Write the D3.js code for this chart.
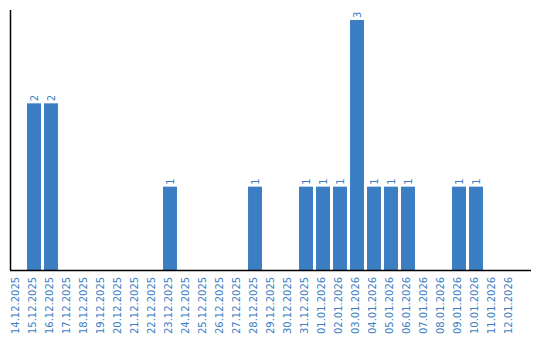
<!DOCTYPE html>
<html><head><meta charset="utf-8">
<script src="https://cdn.jsdelivr.net/npm/d3@7"></script>
<style>body{margin:0;background:#fff}svg{display:block}</style>
</head><body>
<script>
const categories = ["14.12.2025","15.12.2025","16.12.2025","17.12.2025","18.12.2025","19.12.2025","20.12.2025","21.12.2025","22.12.2025","23.12.2025","24.12.2025","25.12.2025","26.12.2025","27.12.2025","28.12.2025","29.12.2025","30.12.2025","31.12.2025","01.01.2026","02.01.2026","03.01.2026","04.01.2026","05.01.2026","06.01.2026","07.01.2026","08.01.2026","09.01.2026","10.01.2026","11.01.2026","12.01.2026"];
const values = [0,2,2,0,0,0,0,0,0,1,0,0,0,0,1,0,0,1,1,1,3,1,1,1,0,0,1,1,0,0];

const W = 540, H = 340;
const color = "#3b7ec3";
const svg = d3.select("body").append("svg").attr("width", W).attr("height", H);

const x = d3.scaleBand().domain(categories).range([8.5, 518.5]).paddingInner(0.18).paddingOuter(0.09);
const y = d3.scaleLinear().domain([0, 3.12]).range([270, 10]);

const data = categories.map((c, i) => ({c, v: values[i]}));

svg.selectAll("rect.bar").data(data.filter(d => d.v > 0)).join("rect")
  .attr("class", "bar")
  .attr("x", d => x(d.c))
  .attr("width", x.bandwidth())
  .attr("y", d => y(d.v))
  .attr("height", d => y(0) - y(d.v))
  .attr("fill", color);

svg.selectAll("text.val").data(data.filter(d => d.v > 0)).join("text")
  .attr("class", "val")
  .attr("transform", d => `translate(${x(d.c) + x.bandwidth()/2 + 3.5},${y(d.v) - 2}) rotate(-90)`)
  .attr("text-anchor", "start")
  .attr("font-family", "DejaVu Sans, Verdana, sans-serif")
  .attr("font-size", 10)
  .attr("fill", color)
  .text(d => d.v);

const xAxis = svg.append("g").attr("transform", "translate(0,270)")
  .call(d3.axisBottom(x).tickSize(0));
xAxis.select(".domain").remove();
xAxis.selectAll("text")
  .attr("font-family", "DejaVu Sans, Verdana, sans-serif")
  .attr("font-size", 10)
  .attr("fill", color)
  .attr("text-anchor", "end")
  .attr("dy", null)
  .attr("y", 0)
  .attr("transform", "translate(2.2,6.8) rotate(-90)");

svg.append("line").attr("x1", 10).attr("x2", 531).attr("y1", 270.5).attr("y2", 270.5)
  .attr("stroke", "#000").attr("stroke-width", 1.5);
svg.append("line").attr("x1", 10.5).attr("x2", 10.5).attr("y1", 10).attr("y2", 270)
  .attr("stroke", "#000").attr("stroke-width", 1.5);
</script>
</body></html>
